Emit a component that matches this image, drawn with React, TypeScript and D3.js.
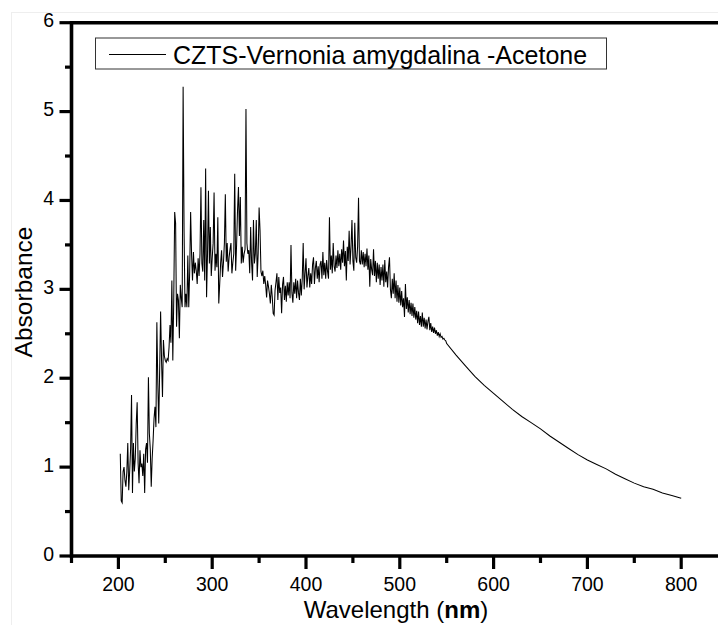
import React from "react";
import * as d3 from "d3";

// ---- data ----
const noisyStartNm = 202; // 1 nm sampling in the noisy part
const noisyAbs = [
  1.15, 0.62, 0.60, 0.95, 1.00, 0.85, 0.78, 0.95, 1.27, 0.74, // 202-211
  0.95, 1.20, 1.81, 0.71, 1.27, 0.95, 1.10, 1.49, 1.73, 1.05, // 212-221
  0.82, 1.19, 1.00, 1.04, 0.90, 1.15, 0.71, 1.20, 1.27, 1.05, // 222-231
  2.01, 1.38, 1.20, 0.78, 1.10, 1.30, 1.55, 1.68, 1.45, 2.63, // 232-241
  1.95, 1.49, 2.10, 2.75, 2.20, 1.79, 2.43, 2.25, 2.20, 2.18, // 242-251
  2.22, 2.20, 2.35, 2.60, 2.40, 3.10, 2.20, 2.88, 3.87, 3.74, // 252-261
  2.58, 2.95, 2.88, 2.45, 3.05, 2.90, 2.80, 5.28, 3.66, 2.80, // 262-271
  2.95, 2.80, 3.38, 2.80, 3.20, 3.87, 3.40, 3.10, 3.42, 3.18, // 272-281
  3.30, 3.21, 3.06, 3.35, 3.15, 3.40, 4.15, 3.29, 3.20, 3.78, // 282-291
  3.10, 4.36, 2.91, 3.40, 4.11, 3.29, 3.70, 3.15, 3.35, 3.52, // 292-301
  4.09, 3.21, 3.40, 3.25, 3.81, 2.84, 3.06, 3.30, 3.44, 3.14, // 302-311
  3.30, 3.52, 4.07, 3.31, 3.52, 3.20, 3.36, 3.45, 3.52, 3.18, // 312-321
  3.30, 3.40, 4.30, 3.21, 3.50, 3.89, 4.15, 3.60, 4.04, 3.29, // 322-331
  3.48, 3.30, 3.40, 3.45, 5.03, 3.52, 3.40, 3.44, 3.18, 3.70, // 332-341
  3.30, 3.10, 3.78, 3.29, 3.40, 3.78, 3.14, 3.40, 3.92, 3.66, // 342-351
  3.20, 3.15, 3.21, 3.06, 3.15, 3.05, 2.91, 3.10, 3.03, 2.95, // 352-361
  2.84, 3.05, 2.92, 2.73, 2.71, 2.99, 3.08, 3.18, 2.88, 3.14, // 362-371
  2.96, 3.02, 2.73, 3.05, 3.14, 2.88, 3.04, 2.86, 3.08, 2.93, // 372-381
  3.08, 2.90, 3.50, 2.96, 2.85, 3.08, 2.95, 3.12, 2.90, 3.10, // 382-391
  2.96, 2.88, 3.12, 2.93, 3.12, 3.52, 3.00, 3.18, 3.35, 3.02, // 392-401
  3.15, 3.24, 3.02, 3.18, 3.06, 3.28, 3.36, 3.06, 3.24, 3.32, // 402-411
  3.12, 3.26, 3.08, 3.28, 3.32, 3.12, 3.42, 3.16, 3.30, 3.12, // 412-421
  3.33, 3.20, 3.12, 3.81, 3.22, 3.38, 3.18, 3.52, 3.26, 3.20, // 422-431
  3.38, 3.24, 3.44, 3.26, 3.40, 3.22, 3.45, 3.30, 3.55, 3.26, // 432-441
  3.43, 3.10, 3.48, 3.32, 3.66, 3.28, 3.48, 3.78, 3.32, 3.21, // 442-451
  3.75, 3.36, 3.30, 3.48, 4.03, 3.32, 3.28, 3.44, 3.28, 3.42, // 452-461
  3.25, 3.40, 3.26, 3.46, 3.22, 3.38, 3.03, 3.34, 3.22, 3.16, // 462-471
  3.45, 3.15, 3.32, 3.08, 3.30, 3.12, 3.28, 3.05, 3.25, 3.10, // 472-481
  3.28, 3.03, 3.33, 3.08, 3.20, 3.02, 3.25, 3.36, 3.00, 2.90, // 482-491
  3.12, 2.95, 3.18, 2.90, 3.10, 2.86, 3.05, 2.85, 3.02, 2.82, // 492-501
  2.98, 2.80, 2.90, 2.69, 3.06, 2.78, 2.91, 2.74, 2.88, 2.72, // 502-511
  2.85, 2.70, 2.84, 2.68, 2.80, 2.66, 2.76, 2.62, 2.75, 2.60, // 512-521
  2.70, 2.58, 2.74, 2.58, 2.68, 2.56, 2.66, 2.55, 2.64, 2.69, // 522-531
  2.54, 2.62, 2.52, 2.58, 2.51, 2.57, 2.50, 2.54, 2.48, 2.52, // 532-541
  2.47, 2.50, 2.46, 2.47, 2.44, 2.45, 2.43, 2.42,             // 542-549
];

const smoothNm = [550, 560, 570, 580, 590, 600, 610, 620, 630, 640, 650, 660, 670, 680, 690, 700, 710, 720, 730, 740, 750, 760, 770, 780, 790, 800];
const smoothAbs = [2.39, 2.26, 2.14, 2.02, 1.92, 1.83, 1.74, 1.65, 1.57, 1.50, 1.43, 1.35, 1.28, 1.21, 1.14, 1.08, 1.03, 0.98, 0.92, 0.87, 0.82, 0.78, 0.75, 0.71, 0.68, 0.65];

const xMajorTicks = [200, 300, 400, 500, 600, 700, 800];
const xMinorTicks = [150, 250, 350, 450, 550, 650, 750];
const yMajorTicks = [0, 1, 2, 3, 4, 5, 6];
const yMinorTicks = [0.5, 1.5, 2.5, 3.5, 4.5, 5.5];

const legendLabel = "CZTS-Vernonia amygdalina -Acetone";
const yTitle = "Absorbance";

// ---- layout ----
const W = 718;
const H = 625;
const FONT = "'Liberation Sans', Arial, Helvetica, sans-serif";

export default function App() {
  const x = d3.scaleLinear().domain([150, 850]).range([71.5, 71.5 + 93.8 * 7]);
  const y = d3.scaleLinear().domain([0, 6]).range([556, 22.7]);

  const points: [number, number][] = [
    ...noisyAbs.map((a, i) => [noisyStartNm + i, a] as [number, number]),
    ...smoothNm.map((n, i) => [n, smoothAbs[i]] as [number, number]),
  ];
  const line = d3
    .line<[number, number]>()
    .x((d) => x(d[0]))
    .y((d) => y(d[1]));

  const axisW = 3.6;
  return (
    <svg
      width={W}
      height={H}
      style={{ position: "absolute", left: 0, top: 0, background: "#fff" }}
      fontFamily={FONT}
    >
      <rect x={0} y={0} width={W} height={H} fill="#fff" />
      <rect x={11.5} y={12.5} width={W} height={H} fill="none" stroke="#eeeeee" strokeWidth={1} />

      {/* data */}
      <path d={line(points) || ""} fill="none" stroke="#000" strokeWidth={1.05} strokeLinejoin="miter" />

      {/* axes lines */}
      <line x1={x(150)} x2={W} y1={y(0)} y2={y(0)} stroke="#000" strokeWidth={axisW} />
      <line x1={x(150)} x2={W} y1={y(6)} y2={y(6)} stroke="#000" strokeWidth={axisW} />
      <line x1={x(150)} x2={x(150)} y1={y(6) - axisW / 2} y2={y(0) + axisW / 2} stroke="#000" strokeWidth={axisW} />

      {/* x ticks */}
      {xMajorTicks.map((t) => (
        <g key={"xm" + t}>
          <line x1={x(t)} x2={x(t)} y1={y(0)} y2={y(0) + 13} stroke="#000" strokeWidth={3.2} />
          <text x={x(t)} y={590.5} textAnchor="middle" fontSize={19.5} fill="#000">
            {t}
          </text>
        </g>
      ))}
      {xMinorTicks.map((t) => (
        <line key={"xn" + t} x1={x(t)} x2={x(t)} y1={y(0)} y2={y(0) + 7} stroke="#000" strokeWidth={3.2} />
      ))}

      {/* y ticks */}
      {yMajorTicks.map((t) => (
        <g key={"ym" + t}>
          <line x1={x(150) - 12} x2={x(150)} y1={y(t)} y2={y(t)} stroke="#000" strokeWidth={3.2} />
          <text x={54} y={y(t) + 4.5} textAnchor="end" fontSize={19.5} fill="#000">
            {t}
          </text>
        </g>
      ))}
      {yMinorTicks.map((t) => (
        <line key={"yn" + t} x1={x(150) - 6.5} x2={x(150)} y1={y(t)} y2={y(t)} stroke="#000" strokeWidth={3.2} />
      ))}

      {/* axis titles */}
      <text
        transform={`translate(32,292) rotate(-90)`}
        textAnchor="middle"
        fontSize={24.5}
        fill="#000"
      >
        {yTitle}
      </text>
      <text x={396} y={618} textAnchor="middle" fontSize={24} fill="#000">
        Wavelength (<tspan fontWeight="bold">nm</tspan>)
      </text>

      {/* legend */}
      <rect x={95.5} y={38} width={511} height={31} fill="#fff" stroke="#333" strokeWidth={1} />
      <line x1={109} x2={166} y1={54.5} y2={54.5} stroke="#000" strokeWidth={1} />
      <text x={173} y={64} fontSize={25} fill="#000">
        {legendLabel}
      </text>
    </svg>
  );
}
